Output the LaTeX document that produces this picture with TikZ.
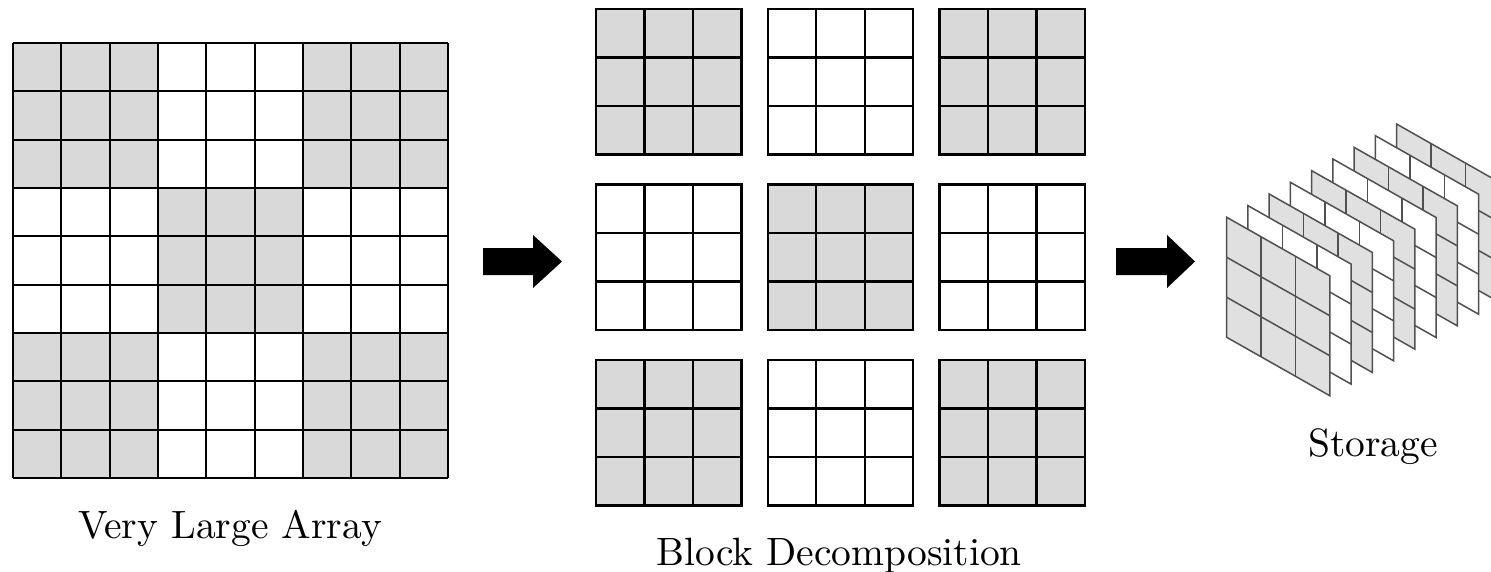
\documentclass[tikz,border=0pt]{standalone}
\usepackage{tikz}
\usepackage{graphicx}
\definecolor{cellgray}{RGB}{217,217,217}
\definecolor{layergray}{RGB}{224,224,224}
\definecolor{layerline}{RGB}{80,80,80}
\tikzset{arraylabel/.style={anchor=base,inner sep=0pt}}
\newcommand{\biglabel}[1]{\scalebox{3.95}{\fontsize{10}{12}\selectfont #1}}

\begin{document}
\begin{tikzpicture}[x=1pt,y=-1pt,line width=2.2pt]
    \useasboundingbox (0,0) rectangle (1491,572);
    \clip (0,0) rectangle (1491,572);

    %very large array
    \foreach \bx/\by/\shade in {0/0/cellgray,1/0/white,2/0/cellgray,0/1/white,1/1/cellgray,2/1/white,0/2/cellgray,1/2/white,2/2/cellgray}
        \fill[\shade] ({13+145*\bx},{43+145*\by}) rectangle ++(145,145);
    \foreach \k in {0,...,9} {
        \draw ({13+48.333*\k},43) -- ({13+48.333*\k},478);
        \draw (13,{43+48.333*\k}) -- (448,{43+48.333*\k});
    }
    \node[arraylabel] (vla) at (230,538.3) {\biglabel{Very Large Array}};

    %arrow 1
    \fill (483,248) -- (533,248) -- (533,235) -- (562,261.5) -- (533,288) -- (533,275) -- (483,275) -- cycle;

    %block decomposition
    \foreach \bx/\by/\shade in {0/0/cellgray,1/0/white,2/0/cellgray,0/1/white,1/1/cellgray,2/1/white,0/2/cellgray,1/2/white,2/2/cellgray} {
        \begin{scope}[shift={({596+171.7*\bx},{9+175.5*\by})}]
            \filldraw[fill=\shade] (0,0) rectangle (145.5,145.5);
            \foreach \k in {1,2} {
                \draw ({48.5*\k},0) -- ++(0,145.5);
                \draw (0,{48.5*\k}) -- ++(145.5,0);
            }
        \end{scope}
    }
    \node[arraylabel] (bd) at (839,565) {\biglabel{Block Decomposition}};

    %arrow 2
    \fill (1116,248) -- (1167,248) -- (1167,235) -- (1195,261.5) -- (1167,288) -- (1167,275) -- (1116,275) -- cycle;

    %storage
    \foreach \k/\shade in {8/layergray,7/white,6/layergray,5/white,4/layergray,3/white,2/layergray,1/white,0/layergray} {
        \begin{scope}[shift={({1226.7+21.25*\k},{217.3-11.65*\k})},color=layerline,line width=1.5pt]
            \filldraw[fill=\shade] (0,0) -- (103.2,58.5) -- (103.2,178.5) -- (0,120) -- cycle;
            \foreach \m in {1,2} {
                \draw ({34.4*\m},{19.5*\m}) -- ++(0,120);
                \draw (0,{40*\m}) -- ++(103.2,58.5);
            }
        \end{scope}
    }
    \node[arraylabel] (sto) at (1373,456.7) {\biglabel{Storage}};
\end{tikzpicture}
\end{document}
